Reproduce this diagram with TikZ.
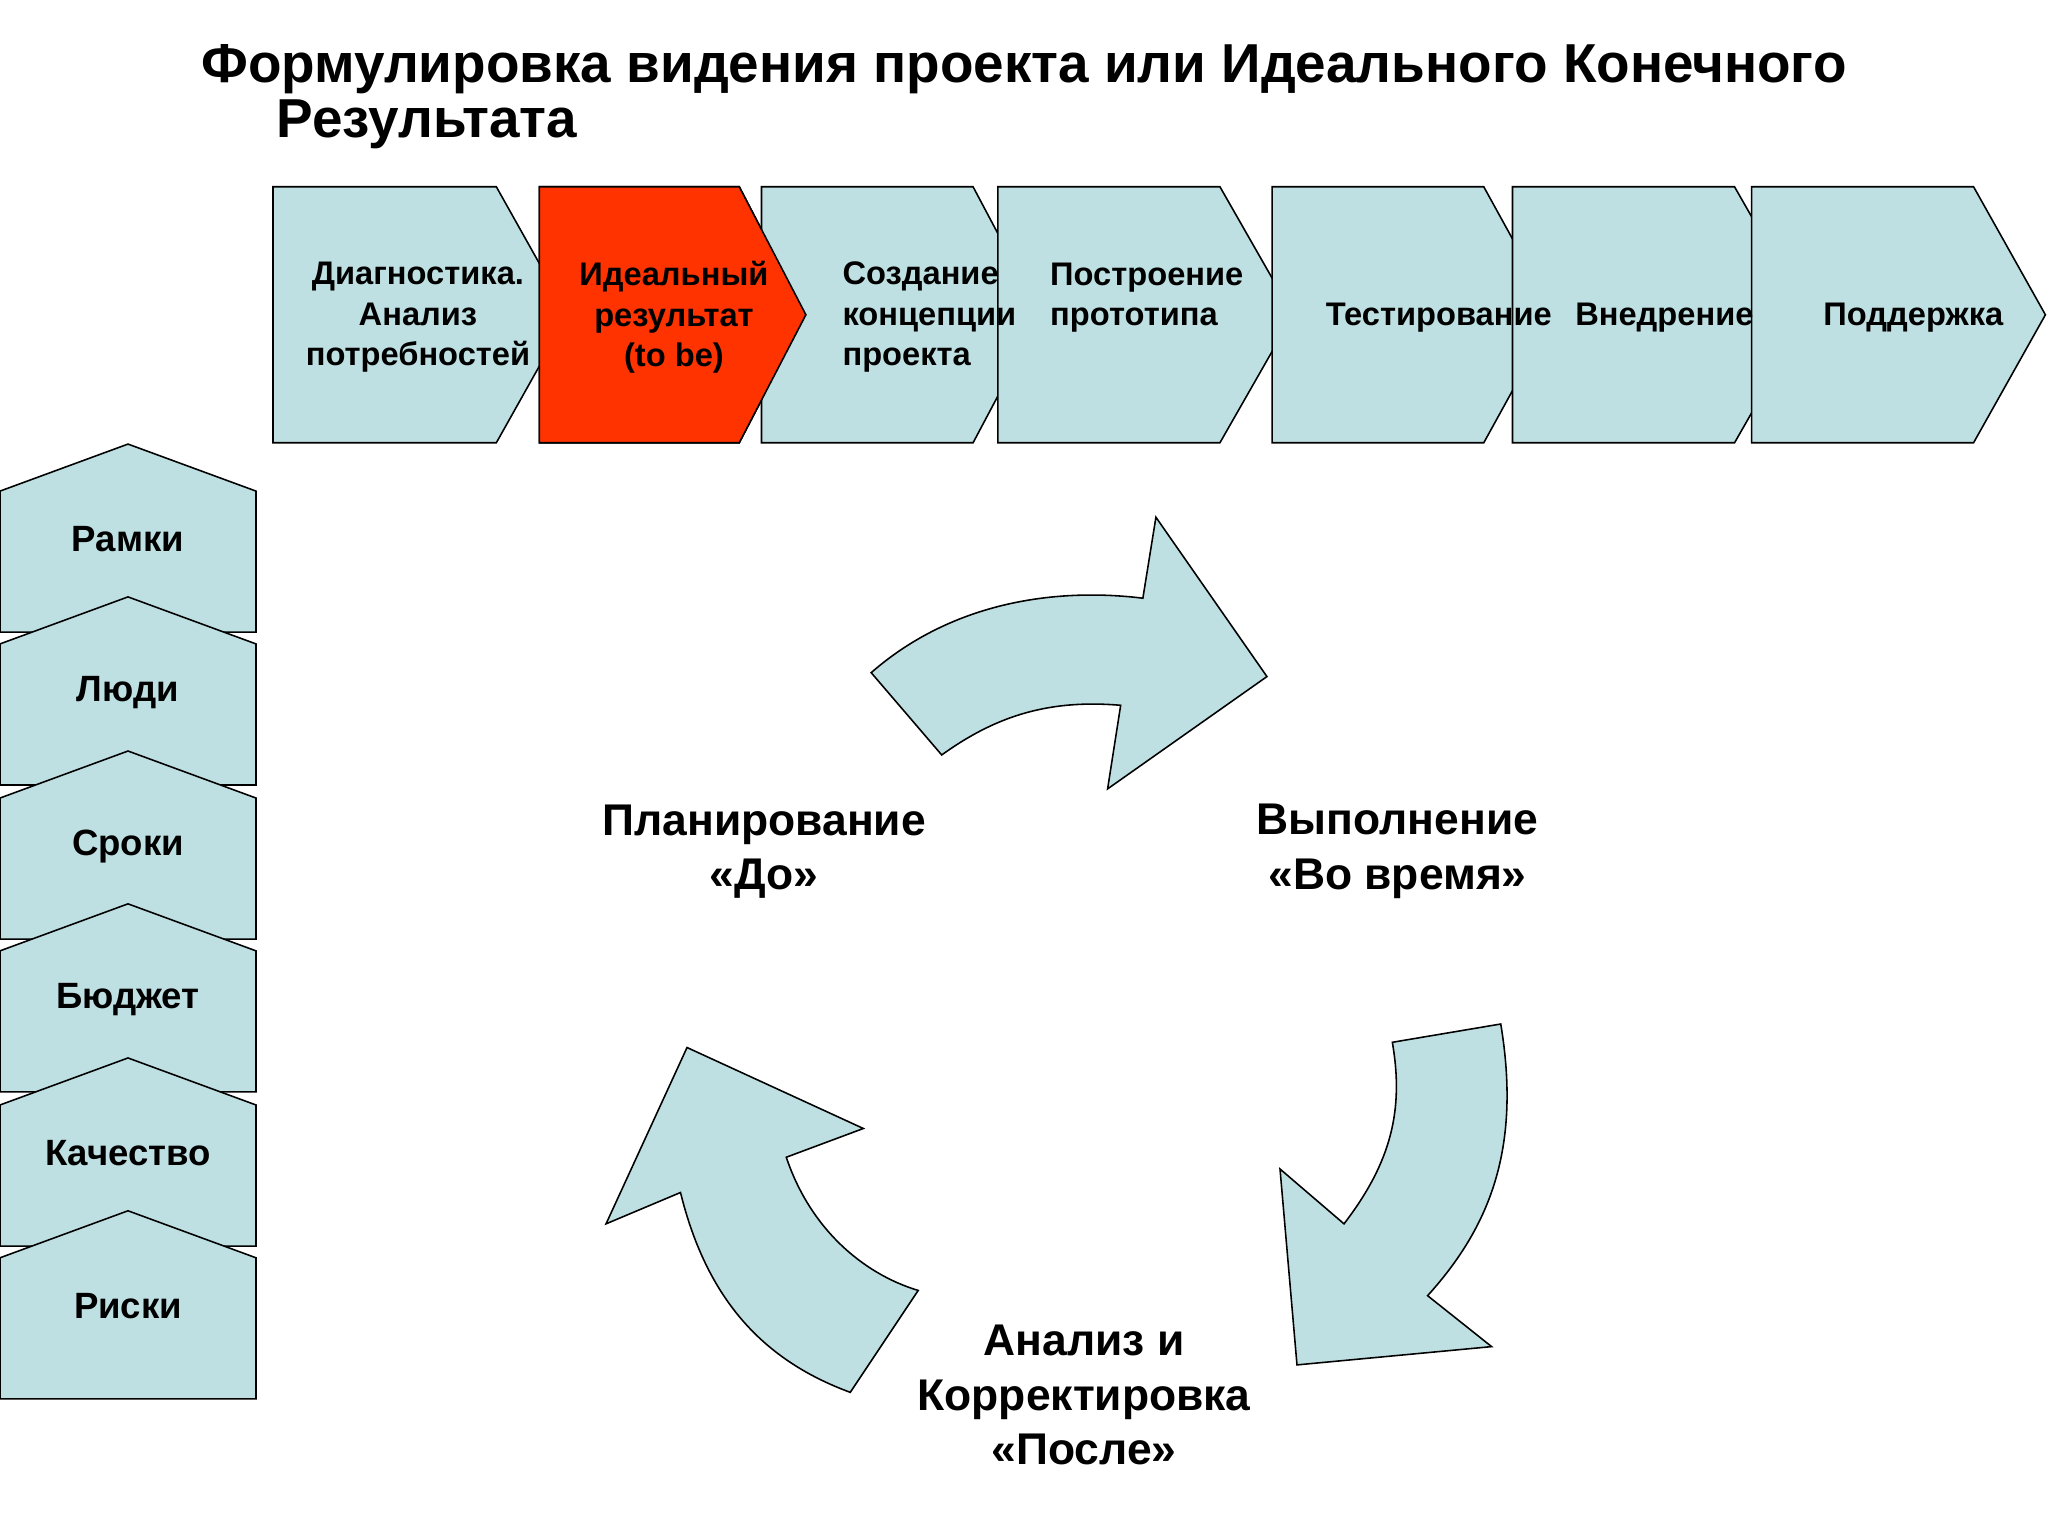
\documentclass[tikz,border=0pt]{standalone}
\usepackage{fontspec}
\setmainfont{Liberation Sans}
\begin{document}
\begin{tikzpicture}[x=0.5pt,y=-0.5pt,
  sh/.style={draw=black,line width=0.6pt,fill=lb},
  ct/.style={font=\bfseries\fontsize{12.5}{15.5}\selectfont,align=center},
  cl/.style={font=\bfseries\fontsize{12.5}{15.5}\selectfont,align=left,anchor=west},
  sl/.style={font=\bfseries\fontsize{14}{16}\selectfont},
  cy/.style={font=\bfseries\fontsize{17}{21}\selectfont,align=center}]
\definecolor{lb}{HTML}{BEE0E2}
\definecolor{rd}{HTML}{FF3300}
\useasboundingbox (0,0) rectangle (1568,1176);
\node[anchor=west,font=\bfseries\fontsize{21}{21}\selectfont] (t1) at (147,53) {Формулировка видения проекта или Идеального Конечного};
\node[anchor=west,font=\bfseries\fontsize{21}{21}\selectfont] (t2) at (205,95) {Результата};
% chevrons
\foreach \a/\b/\c in {209/380/435,413/566/617,583/745/797,764/934/990,974/1136/1190,1158/1328/1384,1341/1511/1566}{
  \draw[sh] (\a,143) -- (\b,143) -- (\c,241) -- (\b,339) -- (\a,339) -- cycle;}
\draw[sh,fill=rd] (413,143) -- (566,143) -- (617,241) -- (566,339) -- (413,339) -- cycle;
\node[ct] (c1) at (320,243) {Диагностика.\\Анализ\\потребностей};
\node[ct] (c2) at (516,243) {Идеальный\\результат\\(to be)};
\node[cl] (c3) at (638,243) {Создание\\концепции\\проекта};
\node[cl] (c4) at (797,228) {Построение\\прототипа};
\node[cl] (c5) at (1008,243) {Тестирование};
\node[cl] (c6) at (1199,243) {Внедрение};
\node[cl] (c7) at (1389,243) {Поддержка};
% side pentagons
\foreach \p/\t in {340/Рамки,457/Люди,575/Сроки,692/Бюджет,810/Качество,927/Риски}{
  \draw[sh] (0,\p+36) -- (98,\p) -- (196,\p+36) -- (196,\p+144) -- (0,\p+144) -- cycle;
  \node[sl] at (98,\p+73) {\t};}
% cycle arrows
\draw[sh] (667,515) .. controls (730,460) and (810,450) .. (875,458) -- (885,396) -- (970,518) -- (848,604) -- (858,540) .. controls (800,535) and (760,550) .. (721,578) -- cycle;
\draw[sh] (1149,784) .. controls (1165,880) and (1140,940) .. (1093,992) -- (1142,1031) -- (993,1045) -- (980,895) -- (1029,937) .. controls (1065,890) and (1075,850) .. (1066,798) -- cycle;
\draw[sh] (651,1066) .. controls (580,1040) and (540,990) .. (521,913) -- (464,937) -- (526,802) -- (661,864) -- (602,886) .. controls (620,940) and (660,975) .. (703,988) -- cycle;
\node[cy] (p) at (585,652) {Планирование\\«До»};
\node[cy] (v) at (1070,652) {Выполнение\\«Во время»};
\node[cy] (a) at (830,1068) {Анализ и\\Корректировка\\«После»};
\end{tikzpicture}
\end{document}
